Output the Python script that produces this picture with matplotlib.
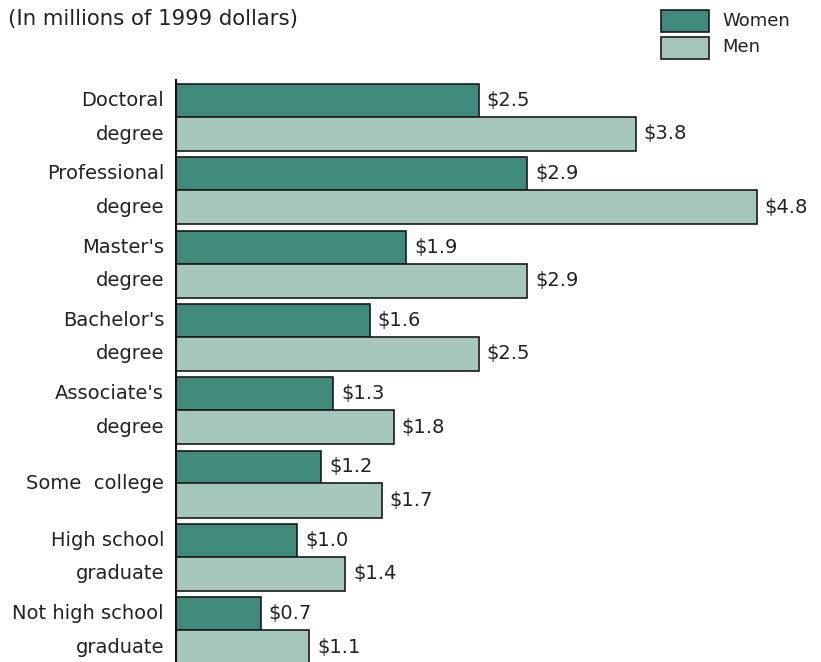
"""
Work-life earnings by educational attainment and sex (horizontal paired bars).
"""
import numpy as np
import matplotlib
matplotlib.use("Agg")
import matplotlib.pyplot as plt
from matplotlib.patches import Rectangle

categories = ["Doctoral\ndegree", "Professional\ndegree", "Master's\ndegree",
              "Bachelor's\ndegree", "Associate's\ndegree", "Some  college",
              "High school\ngraduate", "Not high school\ngraduate"]
women = [2.5, 2.9, 1.9, 1.6, 1.3, 1.2, 1.0, 0.7]
men = [3.8, 4.8, 2.9, 2.5, 1.8, 1.7, 1.4, 1.1]
series_names = ["Women", "Men"]

WOMEN_COLOR = "#3f8a7a"
MEN_COLOR = "#a6c8bc"
EDGE = "#1a1a1a"
TEXT = "#222222"
FONT = "DejaVu Sans"
FS = 14

W, H = 821, 662
fig = plt.figure(figsize=(W / 100, H / 100), dpi=100)
plt.rcParams["font.family"] = FONT

# axes placed in pixel terms: left spine at x=176, top at y=80
ax = fig.add_axes([176 / W, 0, 1 - 176 / W, 1 - 80 / H])
ax.set_xlim(0, (W - 176) / 121.0)
pitch = 73.3
ax.set_ylim((H - 84) / pitch, -4 / pitch)

bh_w = 33 / pitch
bh_m = 34 / pitch
y = np.arange(len(categories))
yw = y + bh_w / 2
ym = y + bh_w + bh_m / 2

ax.barh(yw, women, height=bh_w, color=WOMEN_COLOR, edgecolor=EDGE, linewidth=1.2)
ax.barh(ym, men, height=bh_m, color=MEN_COLOR, edgecolor=EDGE, linewidth=1.2)

pad = 8 / 121.0
for yy, v in zip(yw, women):
    ax.text(v + pad, yy, f"${v:.1f}", va="center", ha="left", fontsize=FS, color=TEXT)
for yy, v in zip(ym, men):
    ax.text(v + pad, yy, f"${v:.1f}", va="center", ha="left", fontsize=FS, color=TEXT)

trans = matplotlib.transforms.blended_transform_factory(fig.transFigure, ax.transData)
for i, cat in enumerate(categories):
    parts = cat.split("\n")
    xr = 164 / W
    if len(parts) == 2:
        ax.text(xr, yw[i], parts[0], transform=trans, ha="right", va="center", fontsize=FS, color=TEXT)
        ax.text(xr, ym[i], parts[1], transform=trans, ha="right", va="center", fontsize=FS, color=TEXT)
    else:
        ax.text(xr, (yw[i] + ym[i]) / 2, parts[0], transform=trans, ha="right", va="center",
                fontsize=FS, color=TEXT)

for s in ["top", "right", "bottom"]:
    ax.spines[s].set_visible(False)
ax.spines["left"].set_linewidth(1.5)
ax.spines["left"].set_color("#111111")
ax.set_xticks([])
ax.set_yticks([])
ax.patch.set_alpha(0)

fig.text(8 / W, 1 - 19 / H, "(In millions of 1999 dollars)", ha="left", va="center",
         fontsize=15.3, color=TEXT)

# legend drawn by hand to match the boxed swatches
for k, (name, col) in enumerate(zip(series_names, [WOMEN_COLOR, MEN_COLOR])):
    top = 10 + k * 26.5
    fig.add_artist(Rectangle((661 / W, 1 - (top + 22) / H), 48 / W, 22 / H,
                             transform=fig.transFigure, facecolor=col, edgecolor=EDGE, linewidth=1.2))
    fig.text(722 / W, 1 - (top + 11) / H, name, ha="left", va="center", fontsize=13, color=TEXT)

fig.savefig("out.png", dpi=100)
plt.close(fig)
